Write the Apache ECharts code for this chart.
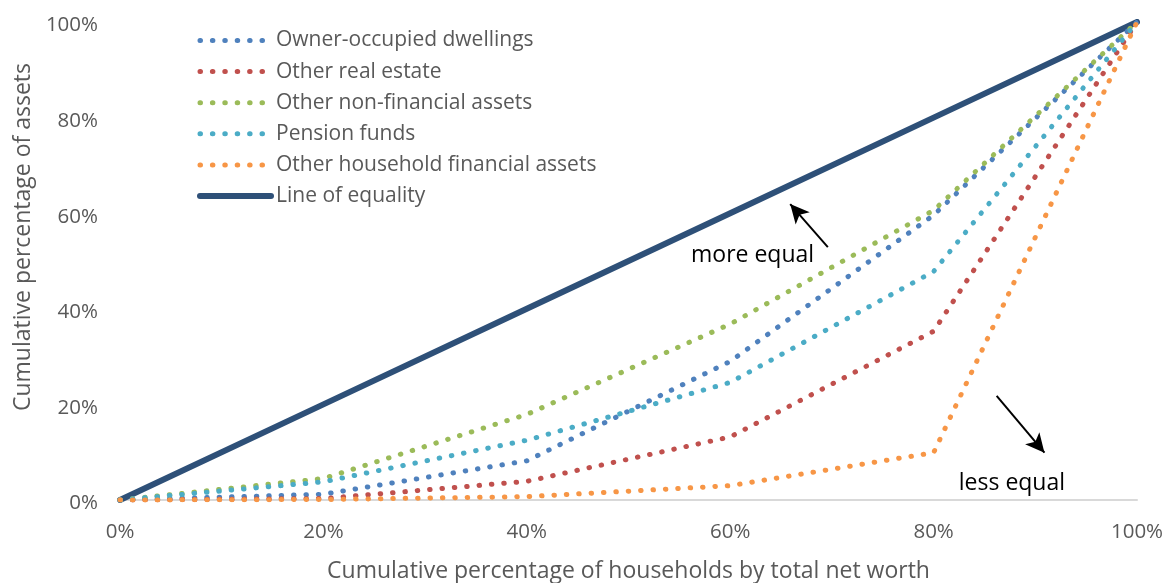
<!DOCTYPE html>
<html>
<head>
<meta charset="utf-8">
<script src="https://cdn.jsdelivr.net/npm/echarts@6/dist/echarts.min.js"></script>
<style>
  html, body { margin: 0; padding: 0; background: #fff; }
  #chart { width: 1166px; height: 583px; }
</style>
</head>
<body>
<div id="chart"></div>
<script>
// cumulative share of households (quintile breaks), %
const households = [0, 20, 40, 60, 80, 100]

// cumulative share of each asset type, %
const ownerOccupied = [0, 1.2, 8.2, 29.0, 59.6, 100]
const otherRealEstate = [0, 0.3, 3.9, 13.2, 35.3, 100]
const otherNonFinancial = [0, 4.5, 17.9, 36.8, 60.6, 100]
const pensionFunds = [0, 3.8, 12.5, 24.6, 47.8, 100]
const otherFinancial = [0, 0.1, 0.7, 3.0, 9.9, 100]
const equality = [0, 20, 40, 60, 80, 100]

const yTicks = [0, 20, 40, 60, 80, 100]

const FONT = '"Open Sans", sans-serif'
const GREY = '#595959'
const DOT = [0.5, 11.9]

const chart = echarts.init(document.getElementById('chart'))

function pairs(ys) {
  return households.map((x, i) => [x, ys[i]])
}

function dotted(name, ys, color) {
  return {
    name, type: 'line', data: pairs(ys), symbol: 'none', z: 3,
    lineStyle: { color, width: 5, type: DOT, cap: 'round' },
    itemStyle: { color }
  }
}

function legendItem(name, width) {
  return { name, lineStyle: { width } }
}

function buildOption() {
  return {
    animation: false,
    backgroundColor: '#fff',
    textStyle: { fontFamily: FONT },
    grid: { left: 120, right: 29, top: 22, bottom: 83, outerBoundsMode: 'none' },
    legend: {
      orient: 'vertical', left: 192, top: 25,
      itemWidth: 71, itemHeight: 20, itemGap: 10.1,
      itemStyle: { opacity: 0 },
      textStyle: { fontFamily: FONT, fontSize: 21, lineHeight: 20, color: GREY },
      data: [
        legendItem('Owner-occupied dwellings', 5),
        legendItem('Other real estate', 5),
        legendItem('Other non-financial assets', 5),
        legendItem('Pension funds', 5),
        legendItem('Other household financial assets', 5),
        legendItem('Line of equality', 6)
      ]
    },
    xAxis: {
      type: 'value', min: 0, max: 100, interval: 20,
      name: 'Cumulative percentage of households by total net worth',
      nameLocation: 'middle', nameGap: 60,
      nameTextStyle: { fontFamily: FONT, fontSize: 23, color: GREY },
      axisLine: { show: true, lineStyle: { color: '#d9d9d9', width: 2 } },
      axisTick: { show: false }, splitLine: { show: false },
      axisLabel: { formatter: '{value}%', fontFamily: FONT, fontSize: 20.5, color: GREY, margin: 22 }
    },
    yAxis: {
      type: 'value', min: yTicks[0], max: yTicks[yTicks.length - 1], interval: 20,
      name: 'Cumulative percentage of assets',
      nameLocation: 'middle', nameGap: 84, nameRotate: 90,
      nameTextStyle: { fontFamily: FONT, fontSize: 23, color: GREY, padding: [0, 0, 0, 48] },
      axisLine: { show: false }, axisTick: { show: false }, splitLine: { show: false },
      axisLabel: {
        formatter: v => '{v|' + v + '%}', margin: 22,
        rich: { v: { fontFamily: FONT, fontSize: 20.5, color: GREY, padding: [7, 0, 0, 0] } }
      }
    },
    series: [
      dotted('Owner-occupied dwellings', ownerOccupied, '#4f81bd'),
      dotted('Other real estate', otherRealEstate, '#c0504d'),
      dotted('Other non-financial assets', otherNonFinancial, '#9bbb59'),
      dotted('Pension funds', pensionFunds, '#4bacc6'),
      dotted('Other household financial assets', otherFinancial, '#f79646'),
      {
        name: 'Line of equality', type: 'line', data: pairs(equality), symbol: 'none', z: 2,
        lineStyle: { color: '#2e5078', width: 6, cap: 'round' },
        itemStyle: { color: '#2e5078' },
        markLine: {
          silent: true, symbol: ['none', 'arrow'], symbolSize: [14, 19],
          label: { show: false },
          lineStyle: { color: '#000', width: 2, type: 'solid' },
          data: [
            [{ coord: [69.6, 52.9] }, { coord: [65.9, 61.9] }],
            [{ coord: [86.2, 21.8] }, { coord: [90.9, 9.9] }]
          ]
        },
        markPoint: {
          silent: true, symbol: 'circle', symbolSize: 0,
          label: { show: true, fontFamily: FONT, fontSize: 23, color: '#000', position: 'inside' },
          data: [
            { coord: [62.2, 51.2], value: 'more equal' },
            { coord: [87.7, 3.5], value: 'less equal' }
          ]
        }
      }
    ]
  }
}

chart.setOption(buildOption())
</script>
</body>
</html>
